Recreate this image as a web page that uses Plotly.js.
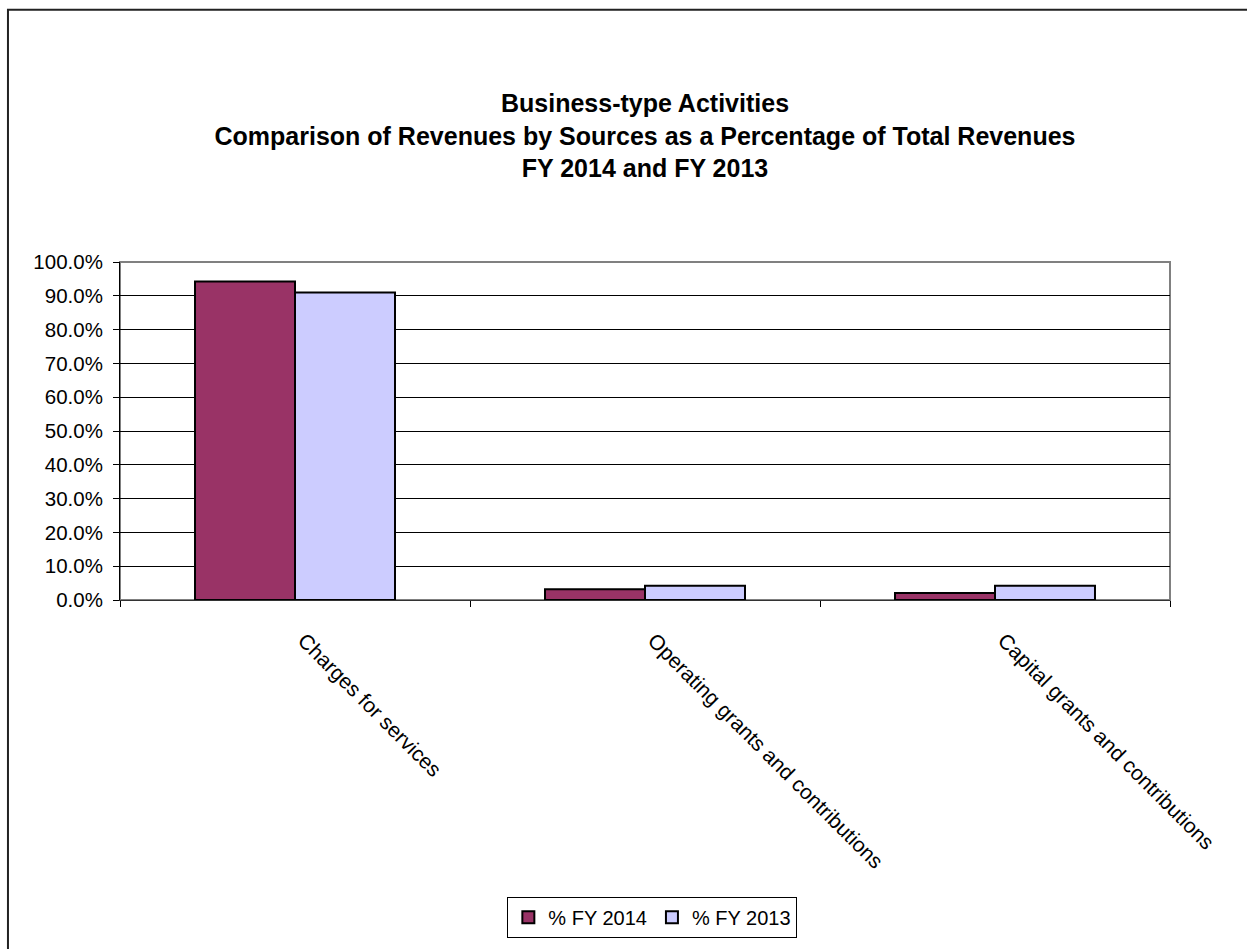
<!DOCTYPE html>
<html>
<head>
<meta charset="utf-8">
<script src="https://cdn.plot.ly/plotly-3.0.1.min.js"></script>
<style>html,body{margin:0;padding:0;background:#fff;}#chart{width:1247px;height:949px;}</style>
</head>
<body>
<div id="chart"></div>
<script>
const categories = ["Charges for services", "Operating grants and contributions", "Capital grants and contributions"];
const fy2014 = [94.2, 3.2, 2.1];
const fy2013 = [91.0, 4.2, 4.2];
const seriesNames = ["% FY 2014", "% FY 2013"];
const yTickVals = [0, 10, 20, 30, 40, 50, 60, 70, 80, 90, 100];
const yTickText = yTickVals.map(v => v.toFixed(1) + "%");

const font = "Liberation Sans, Arial, sans-serif";
const traces = [
  {type: "bar", name: seriesNames[0], x: categories, y: fy2014,
   marker: {color: "#993366", line: {color: "#000", width: 2}}},
  {type: "bar", name: seriesNames[1], x: categories, y: fy2013,
   marker: {color: "#CCCCFF", line: {color: "#000", width: 2}}}
];
const layout = {
  width: 1247, height: 949,
  margin: {l: 120, r: 77, t: 262, b: 344},
  paper_bgcolor: "#fff", plot_bgcolor: "#fff",
  font: {family: font, size: 20.5, color: "#000"},
  title: {text: "<b>Business-type Activities<br>Comparison of Revenues by Sources as a Percentage of Total Revenues<br>FY 2014 and FY 2013</b>",
          font: {family: font, size: 25, color: "#000"},
          x: 0.5, xanchor: "center", xref: "paper", y: 1 - 112/949, yanchor: "middle", yref: "container"},
  barmode: "group", bargap: 0.4286, bargroupgap: 0,
  showlegend: true,
  legend: {orientation: "h", x: 0.507, xanchor: "center", y: -0.8776, yanchor: "top",
           bordercolor: "#000", borderwidth: 1, font: {family: font, size: 20},
           itemwidth: 30, traceorder: "normal"},
  xaxis: {type: "category", tickangle: 45, ticks: "outside", ticklen: 6, tickcolor: "#000",
          tickson: "boundaries", showline: true, linecolor: "#333", linewidth: 1,
          ticklabelstandoff: 19, ticklabelshift: 9,
          showgrid: false, tickfont: {family: font, size: 21}, automargin: false},
  yaxis: {range: [0, 100], tickvals: yTickVals, ticktext: yTickText, ticks: "outside",
          ticklen: 6, tickcolor: "#000", showline: true, linecolor: "#000", linewidth: 1,
          ticklabelstandoff: 6,
          showgrid: true, gridcolor: "#000", gridwidth: 1, zeroline: false,
          tickfont: {family: font, size: 20.5}, automargin: false},
  shapes: [
    {type: "rect", xref: "paper", yref: "paper", x0: 0, x1: 1, y0: 0, y1: 1,
     line: {color: "#808080", width: 2}, layer: "below"},
    {type: "rect", xref: "paper", yref: "paper", x0: -0.1067, x1: 1.2, y0: -2, y1: 1.7464,
     line: {color: "#222", width: 2}}
  ]
};
Plotly.newPlot("chart", traces, layout, {displayModeBar: false, staticPlot: true});
</script>
</body>
</html>
